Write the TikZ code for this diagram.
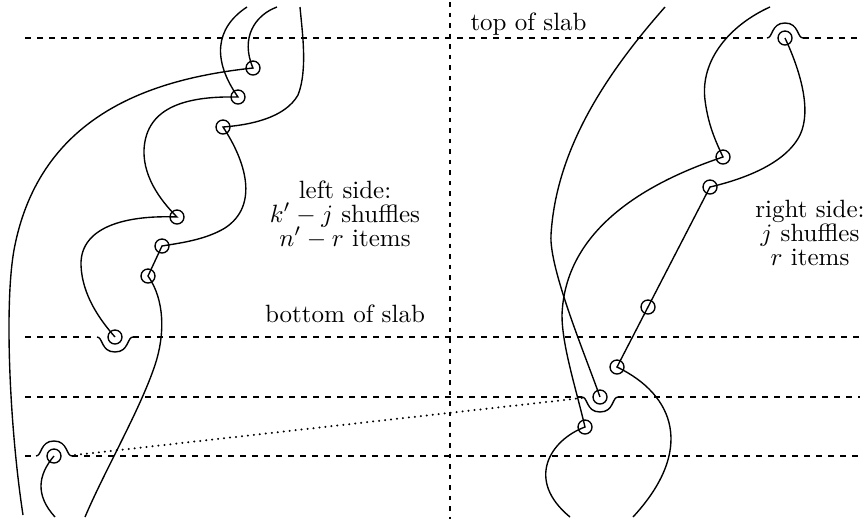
\documentclass[tikz,border=0pt]{standalone}
\begin{document}
\begin{tikzpicture}[x=0.4pt,y=-0.4pt,
  strand/.style={line width=0.55pt},
  item/.style={circle,draw,line width=0.55pt,minimum size=5.6pt,inner sep=0pt},
  slabline/.style={line width=0.5pt,dash pattern=on 2.2pt off 2.6pt},
  midline/.style={line width=0.5pt,dash pattern=on 1.8pt off 2.4pt},
  dotline/.style={line width=0.9pt,line cap=round,dash pattern=on 0pt off 2.4pt},
  lbl/.style={inner sep=0pt,anchor=base},
  bumpdown/.pic={\draw[line width=0.55pt] (-18,0) .. controls (-12,0) and (-14,15) .. (0,15) .. controls (14,15) and (12,0) .. (18,0);},
  bumpup/.pic={\draw[line width=0.55pt] (-18,0) .. controls (-12,0) and (-14,-15) .. (0,-15) .. controls (14,-15) and (12,0) .. (18,0);}
]
\useasboundingbox (0,0) rectangle (868,521);

% slab lines
\draw[slabline] (25,38) -- (767,38);
\draw[slabline] (803,38) -- (860,38);
\draw[slabline] (25,337) -- (97,337);
\draw[slabline] (133,337) -- (860,337);
\draw[slabline] (25,397) -- (582,397);
\draw[slabline] (618,397) -- (860,397);
\draw[slabline] (25,456) -- (36,456);
\draw[slabline] (72,456) -- (860,456);
\draw[midline] (450,2) -- (450,519);

% items
\node[item] (L1) at (253,68) {};
\node[item] (L2) at (238,97) {};
\node[item] (L3) at (223,127) {};
\node[item] (L4) at (177,217) {};
\node[item] (L5) at (162,246) {};
\node[item] (L6) at (148,276) {};
\node[item] (L7) at (115,337) {};
\node[item] (L8) at (54,456) {};
\node[item] (R1) at (785,38) {};
\node[item] (R2) at (723,157) {};
\node[item] (R3) at (710,187) {};
\node[item] (R4) at (648,307) {};
\node[item] (R5) at (617,367) {};
\node[item] (R6) at (600,397) {};
\node[item] (R7) at (585,427) {};

\pic at (L7) {bumpdown};
\pic at (R6) {bumpdown};
\pic at (L8) {bumpup};
\pic at (R1) {bumpup};

% strand ends
\coordinate (TA) at (247,7);
\coordinate (TB) at (277,7);
\coordinate (TC) at (300,7);
\coordinate (TE) at (665,7);
\coordinate (TF) at (770,7);
\coordinate (BB) at (23,515);
\coordinate (BC) at (85,517);
\coordinate (BD) at (55,517);
\coordinate (BF) at (570,517);
\coordinate (BH) at (633,517);
\coordinate (DS) at (75,455);
\coordinate (DE) at (582,398);

% strands
\draw[strand] (TA) .. controls (215,28) and (212,60) .. (L2.center)
  .. controls (190,96) and (146,105) .. (144,150)
  .. controls (143,180) and (165,205) .. (L4.center)
  .. controls (130,215) and (80,225) .. (81,265)
  .. controls (82,295) and (100,320) .. (L7.center);
\draw[strand] (TB) .. controls (255,15) and (240,38) .. (L1.center)
  .. controls (160,78) and (40,110) .. (14,250)
  .. controls (4,306) and (10,430) .. (BB);
\draw[strand] (TC) .. controls (302,30) and (308,70) .. (298,95)
  .. controls (285,118) and (250,125) .. (L3.center)
  .. controls (245,160) and (260,205) .. (225,228)
  .. controls (205,240) and (180,243) .. (L5.center) -- (L6.center)
  .. controls (165,300) and (165,335) .. (155,365)
  .. controls (140,410) and (105,470) .. (BC);
\draw[strand] (L8.center) .. controls (38,475) and (35,495) .. (BD);
\draw[strand] (TE) .. controls (605,75) and (556,150) .. (551,235)
  .. controls (549,269) and (586,357) .. (R6.center);
\draw[strand] (TF) .. controls (730,25) and (700,60) .. (705,100)
  .. controls (708,124) and (715,140) .. (R2.center)
  .. controls (645,183) and (565,230) .. (562,315)
  .. controls (562,345) and (575,385) .. (R7.center)
  .. controls (550,440) and (525,480) .. (BF);
\draw[strand] (R1.center) .. controls (800,70) and (812,110) .. (800,135)
  .. controls (785,165) and (740,180) .. (R3.center) -- (R4.center) -- (R5.center)
  .. controls (675,395) and (695,450) .. (BH);
\draw[dotline] (DS) -- (DE);

% labels
\node[lbl,anchor=base west] (top) at (470,30) {top of slab};
\node[lbl] (bot) at (345,322) {bottom of slab};
\node[lbl] (ls1) at (345,198) {left side:};
\node[lbl] (ls2) at (345,222) {$k'-j$ shuffles};
\node[lbl] (ls3) at (345,246) {$n'-r$ items};
\node[lbl] (rs1) at (810,217) {right side:};
\node[lbl] (rs2) at (810,241) {$j$ shuffles};
\node[lbl] (rs3) at (810,265) {$r$ items};
\end{tikzpicture}
\end{document}
